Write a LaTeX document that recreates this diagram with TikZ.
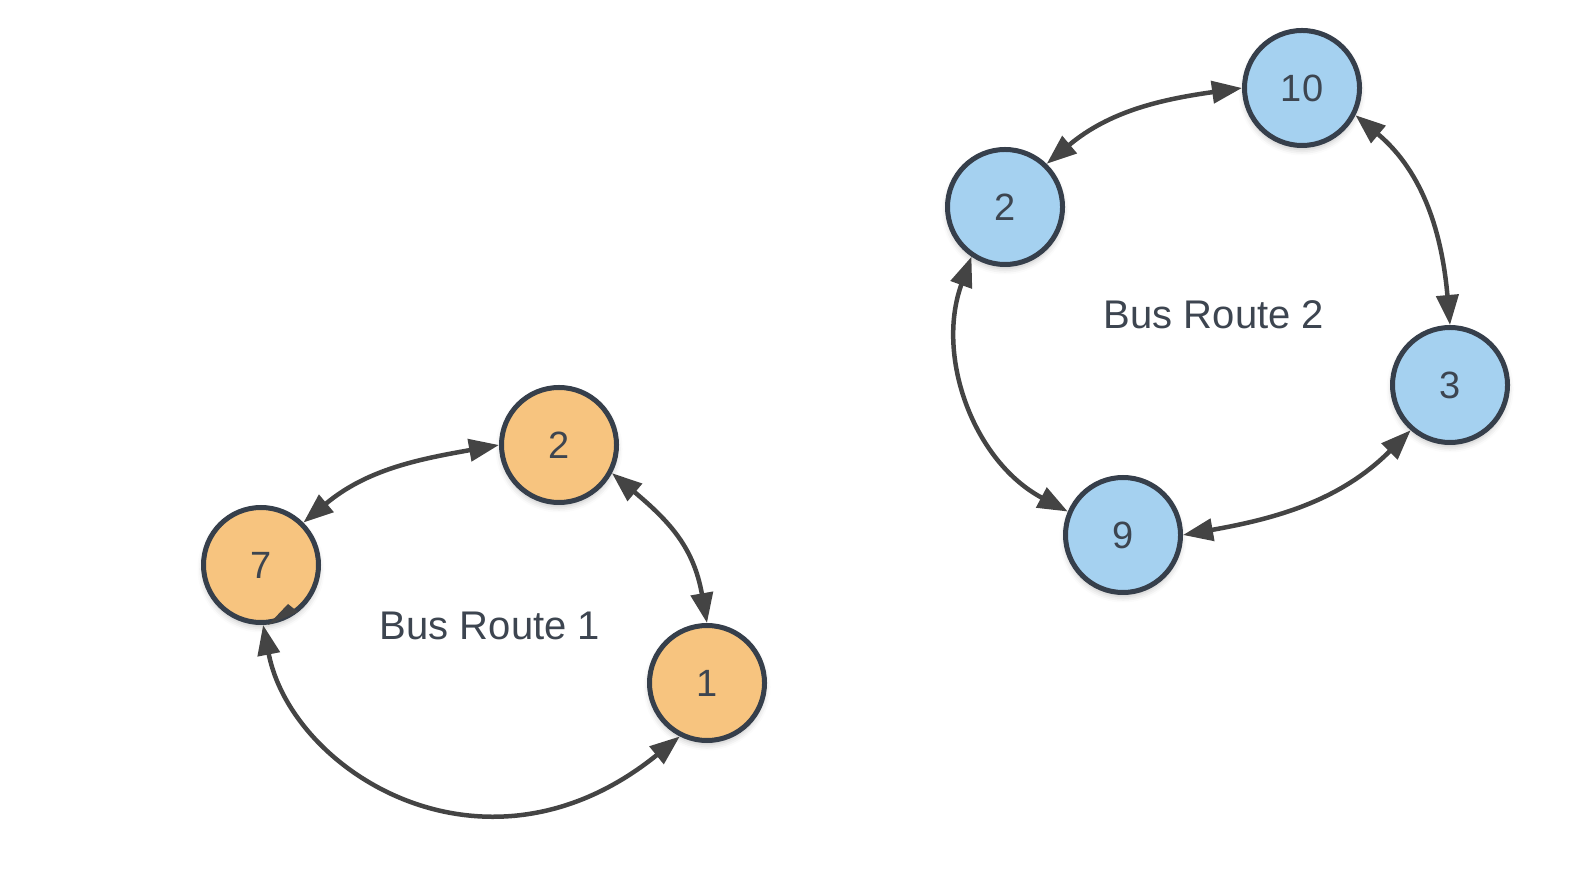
\documentclass[tikz,border=0pt]{standalone}
\usepackage{fontspec}
\setmainfont{Liberation Sans}
\usetikzlibrary{arrows.meta,shadows.blur}
\definecolor{orangefill}{HTML}{F7C47F}
\definecolor{bluefill}{HTML}{A5D1F0}
\definecolor{ringcol}{HTML}{363F4B}
\definecolor{edgecol}{HTML}{444444}
\definecolor{textcol}{HTML}{3D4550}
\tikzset{
  stop/.style={circle, minimum size=57.5pt, inner sep=0pt, line width=2.5pt, draw=ringcol,
    text=textcol, font=\fontsize{19pt}{22pt}\selectfont,
    blur shadow={shadow xshift=0pt, shadow yshift=-2pt, shadow blur radius=3pt, shadow opacity=25}},
  ostop/.style={stop, fill=orangefill},
  bstop/.style={stop, fill=bluefill},
  route/.style={text=textcol, font=\fontsize{20pt}{22pt}\selectfont},
  tip/.tip={Triangle[length=15pt,width=11pt]},
  link/.style={line width=2.25pt, draw=edgecol, tip-tip}
}
\begin{document}
\begin{tikzpicture}[x=0.5pt,y=0.5pt]
% Route 1
\node[ostop] (o2) at (559,427) {2};
\node[ostop] (o7) at (261,307) {7};
\node[ostop] (o1) at (707,189) {1};
\node[route] (r1) at (490,246) {Bus Route 1};
% Route 2
\node[bstop] (b10) at (1302,784) {10};
\node[bstop] (b2) at (1005,665) {2};
\node[bstop] (b3) at (1450,487) {3};
\node[bstop] (b9) at (1123,337) {9};
\node[route] (r2) at (1214,557) {Bus Route 2};
% links route 1
\draw[link] (o7.45) to[out=40,in=190] (o2.180);
\draw[link] (o2.-28) to[out=-40,in=100,looseness=1.1] (o1.90);
\draw[link] (o7.-88) .. controls +(-79:150) and +(219:250) .. (o1.243);
% links route 2
\draw[link] (b2.46) to[out=40,in=188] (b10.180);
\draw[link] (b10.-27) to[out=-40,in=95] (b3.90);
\draw[link] (b3.229) to[out=225,in=10] (b9.0);
\draw[link] (b2.236) to[out=250,in=152] (b9.157);
% stray arrowhead inside stop 7
\fill[edgecol] (288,268) -- (268,247) -- (298,260) -- cycle;
\pgfresetboundingbox
\useasboundingbox (0,0) rectangle (1582,872);
\end{tikzpicture}
\end{document}
